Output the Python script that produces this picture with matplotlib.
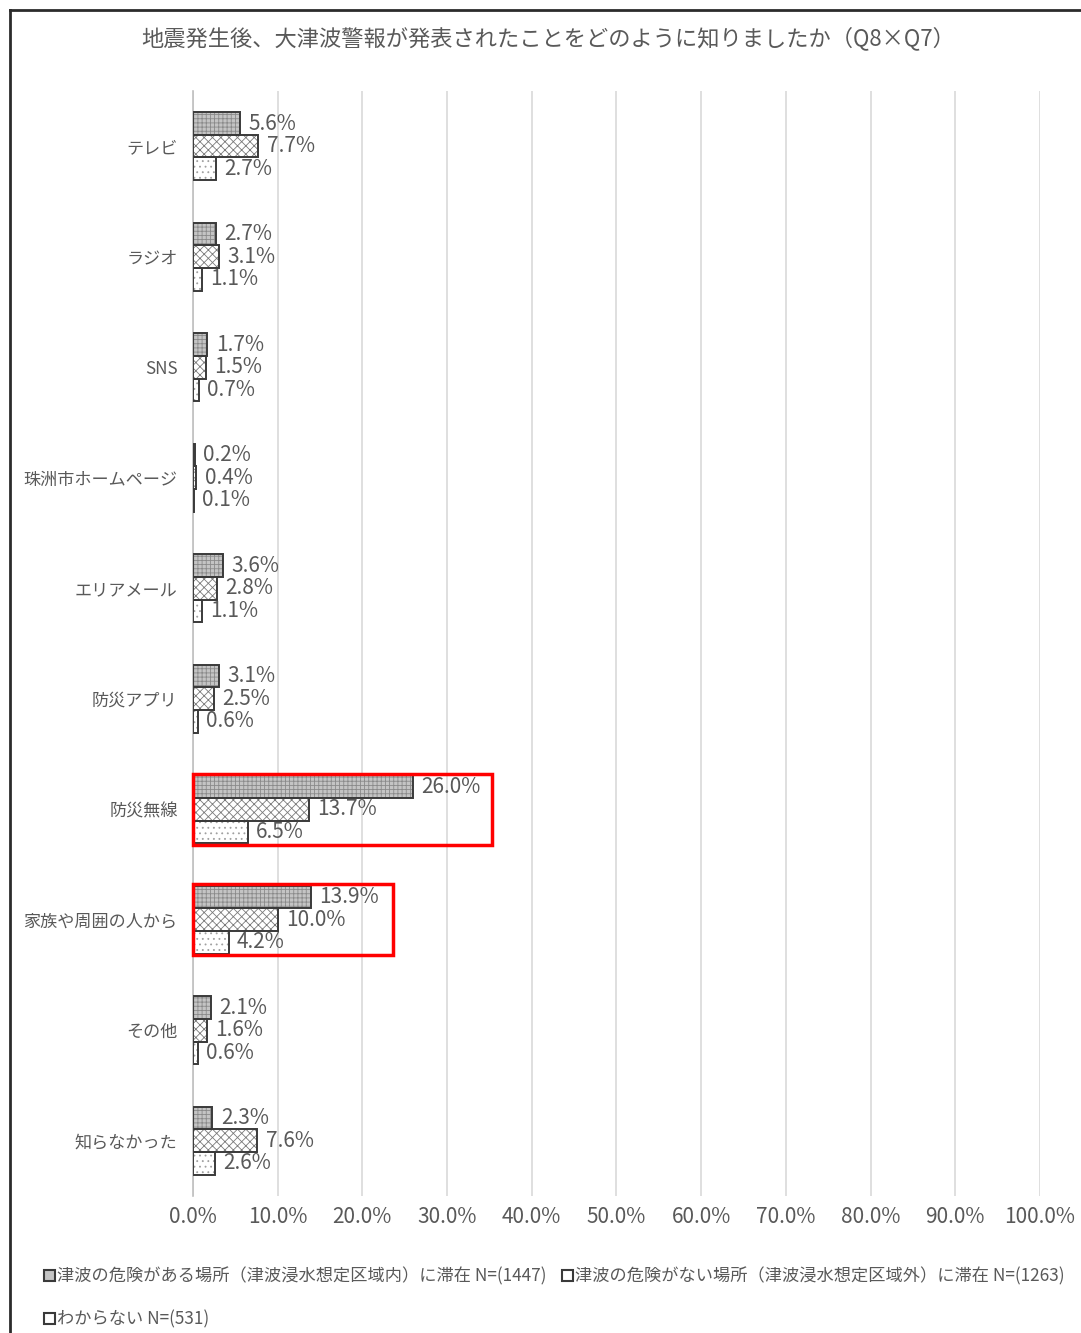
import matplotlib.pyplot as plt
import numpy as np
from matplotlib.patches import Rectangle, Patch
from matplotlib.lines import Line2D

plt.rcParams['font.family'] = ['Noto Sans CJK JP', 'DejaVu Sans']
plt.rcParams['hatch.linewidth'] = 0.6

# 回答項目と3グループの割合(%)
categories = ['テレビ', 'ラジオ', 'SNS', '珠洲市ホームページ', 'エリアメール',
              '防災アプリ', '防災無線', '家族や周囲の人から', 'その他', '知らなかった']
inside = [5.6, 2.7, 1.7, 0.2, 3.6, 3.1, 26.0, 13.9, 2.1, 2.3]
outside = [7.7, 3.1, 1.5, 0.4, 2.8, 2.5, 13.7, 10.0, 1.6, 7.6]
unknown = [2.7, 1.1, 0.7, 0.1, 1.1, 0.6, 6.5, 4.2, 0.6, 2.6]
series_labels = ['津波の危険がある場所（津波浸水想定区域内）に滞在 N=(1447)',
                 '津波の危険がない場所（津波浸水想定区域外）に滞在 N=(1263)',
                 'わからない N=(531)']
highlight = ['防災無線', '家族や周囲の人から']
highlight_right = [35.3, 23.6]

text_color = '#595959'
edge = '#3a3a3a'
styles = [
    dict(facecolor='#c4c4c4', hatch='++++', hatch_color='#8a8a8a'),
    dict(facecolor='white', hatch='xxxx', hatch_color='#7a7a7a'),
    dict(facecolor='white', hatch='...', hatch_color='#a0a0a0'),
]

fig = plt.figure(figsize=(10.81, 13.33), dpi=100)
ax = fig.add_axes([0.1785, 0.1028, 0.7835, 0.829])

y = np.arange(len(categories))
h = 0.205
offsets = [-h, 0, h]
for vals, off, st in zip([inside, outside, unknown], offsets, styles):
    # hatch layer first, then the dark outline on top
    ax.barh(y + off, vals, height=h, color=st['facecolor'], edgecolor=st['hatch_color'],
            hatch=st['hatch'], linewidth=0, zorder=3)
    ax.barh(y + off, vals, height=h, fill=False, edgecolor=edge, linewidth=1.4, zorder=4)
    for yi, v in zip(y + off, vals):
        ax.annotate(f'{v:.1f}%', (v, yi), xytext=(6, 0), textcoords='offset points',
                    va='center', ha='left', fontsize=15, color=text_color, zorder=5)

# 強調枠
for cat, right in zip(highlight, highlight_right):
    i = categories.index(cat)
    ax.add_patch(Rectangle((0, i - 0.32), right, 0.64, fill=False, edgecolor='#ff0000',
                           linewidth=2.5, zorder=6, clip_on=False))

ax.set_xlim(0, 100)
ax.set_ylim(len(categories) - 0.5, -0.5)
ax.set_xticks(np.arange(0, 101, 10))
ax.set_xticklabels([f'{t:.1f}%' for t in np.arange(0, 101, 10)], fontsize=15, color=text_color)
ax.set_yticks(y)
ax.set_yticklabels(categories, fontsize=12.3, color=text_color)
ax.tick_params(axis='y', length=0, pad=11)
ax.tick_params(axis='x', length=0, pad=7)
ax.grid(axis='x', color='#d9d9d9', linewidth=1.2, zorder=0)
for s in ['top', 'right', 'bottom']:
    ax.spines[s].set_visible(False)
ax.spines['left'].set_color('#bfbfbf')
ax.spines['left'].set_linewidth(1.2)

fig.text(0.507, 0.971, '地震発生後、大津波警報が発表されたことをどのように知りましたか（Q8×Q7）',
         ha='center', va='center', fontsize=16, color=text_color)

handles = [Patch(facecolor=st['facecolor'], edgecolor=edge, linewidth=1.5) for st in styles]
order = [0, 2, 1]
fig.legend([handles[i] for i in order], [series_labels[i] for i in order], ncol=2,
           loc='upper left', bbox_to_anchor=(0.033, 0.056), frameon=False,
           fontsize=12.4, labelcolor=text_color, handlelength=0.6, handleheight=0.6,
           handletextpad=0.15, columnspacing=0.9, labelspacing=1.45, borderpad=0)

# 外枠
fig.add_artist(Line2D([10 / 1081, 10 / 1081], [0, 1 - 10 / 1333], color='#2b2b2b', linewidth=2))
fig.add_artist(Line2D([10 / 1081, 1], [1 - 10 / 1333, 1 - 10 / 1333], color='#2b2b2b', linewidth=2))

fig.savefig('out.png', dpi=100)
